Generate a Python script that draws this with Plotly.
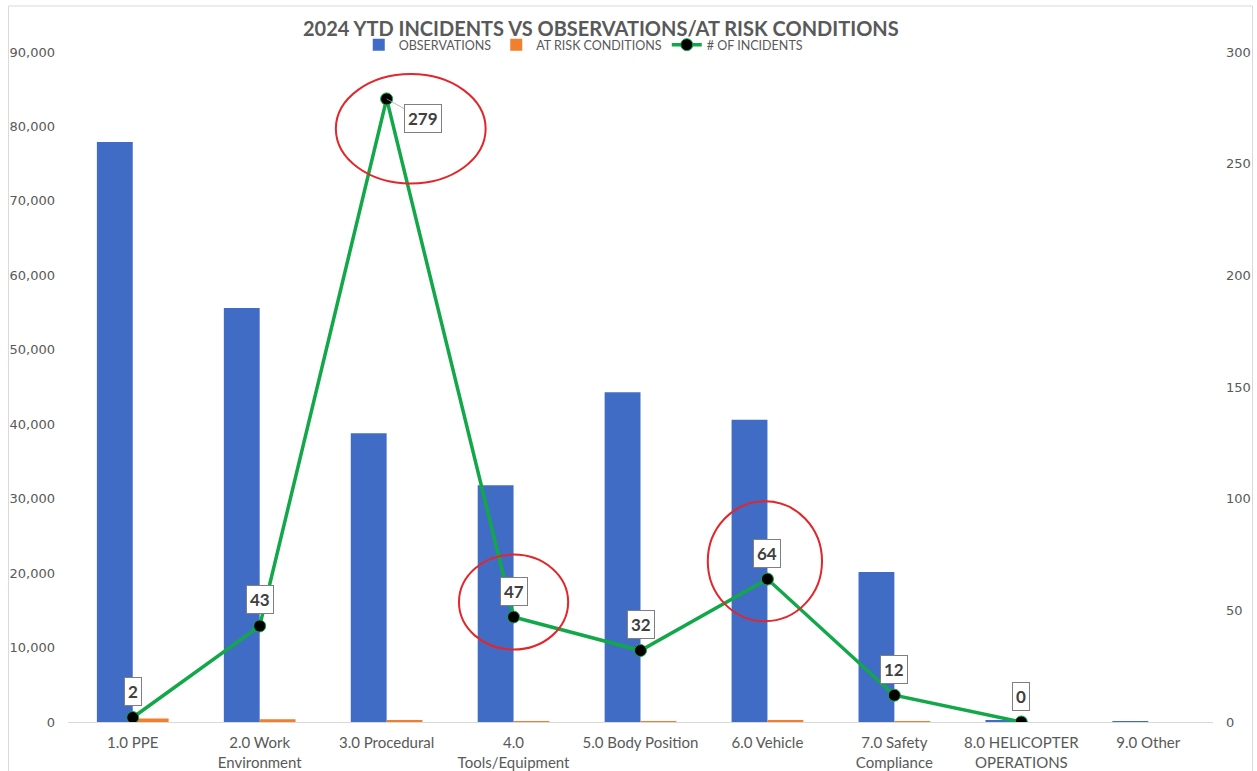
import plotly.graph_objects as go

categories = [
    "1.0 PPE", "2.0 Work<br>Environment", "3.0 Procedural", "4.0<br>Tools/Equipment",
    "5.0 Body Position", "6.0 Vehicle", "7.0 Safety<br>Compliance",
    "8.0 HELICOPTER<br>OPERATIONS", "9.0 Other",
]
observations = [77900, 55600, 38800, 31800, 44300, 40600, 20150, 250, 40]
at_risk = [480, 380, 220, 110, 40, 150, 100, 0, 0]
incidents = [2, 43, 279, 47, 32, 64, 12, 0, None]

# circled points: (category index, x offset in categories, y offset, width, height)
circled = [(2, 0.19, -13.4, 1.18, 49), (3, 0.0, 6.7, 0.86, 42.5), (5, -0.02, 8, 0.9, 53.7)]

GRAY = "#595959"
FONT = "Lato, Roboto, sans-serif"

fig = go.Figure()
fig.add_trace(go.Bar(
    x=categories, y=observations, name="OBSERVATIONS",
    marker=dict(color="#406CC6", line=dict(width=0)),
))
fig.add_trace(go.Bar(
    x=categories, y=at_risk, name="AT RISK CONDITIONS",
    marker=dict(color="#F07F2E", line=dict(width=0)),
))
fig.add_trace(go.Scatter(
    x=categories, y=incidents, name="# OF INCIDENTS", yaxis="y2",
    mode="lines+markers",
    line=dict(color="#12A84A", width=3.5),
    marker=dict(color="black", size=12, line=dict(color="#12A84A", width=1)),
))

# data labels
peak = max(v for v in incidents if v is not None)
for i, v in enumerate(incidents):
    if v is None:
        continue
    label = dict(
        x=categories[i], y=v, xref="x", yref="y2", text=f"<b>{v}</b>",
        bordercolor="#7F7F7F", borderwidth=1, borderpad=3, bgcolor="white",
        font=dict(size=17, color="#404040", family=FONT),
    )
    if v == peak:
        fig.add_annotation(**label, showarrow=True, arrowhead=0, arrowwidth=0.8,
                           arrowcolor="#A6A6A6", ax=36, ay=20)
    else:
        fig.add_annotation(**label, showarrow=False, yshift=26)

# red highlight ellipses
for idx, dx, dy, w, h in circled:
    cy = incidents[idx] + dy
    fig.add_shape(
        type="circle", xref="x", yref="y2",
        x0=idx + dx - w / 2, x1=idx + dx + w / 2,
        y0=cy - h / 2, y1=cy + h / 2,
        line=dict(color="#E3262B", width=2),
    )

fig.update_layout(
    width=1257, height=771,
    paper_bgcolor="white", plot_bgcolor="white",
    margin=dict(l=68, r=44, t=52, b=49, autoexpand=False),
    barmode="group", bargap=0.435, bargroupgap=0,
    font=dict(family=FONT, color=GRAY),
    title=dict(
        text="<b>2024 YTD INCIDENTS VS OBSERVATIONS/AT RISK CONDITIONS</b>",
        x=0.478, xanchor="center", y=0.963, yanchor="middle",
        font=dict(size=20, color=GRAY, family=FONT),
    ),
    legend=dict(
        orientation="h", x=0.45, xanchor="center",
        yref="container", y=0.9416, yanchor="middle",
        font=dict(size=12.5, color=GRAY, family=FONT), bgcolor="rgba(0,0,0,0)",
    ),
    xaxis=dict(
        showgrid=False, showline=True, linecolor="#D9D9D9", linewidth=1,
        tickfont=dict(size=15, color=GRAY, family=FONT), ticks="",
        ticklabelstandoff=7,
    ),
    yaxis=dict(
        range=[0, 90000], dtick=10000, tickformat=",", showgrid=False,
        zeroline=False, ticks="", ticklabelstandoff=12,
        tickfont=dict(size=13, color=GRAY, family="DejaVu Sans"),
    ),
    yaxis2=dict(
        range=[0, 300], dtick=50, overlaying="y", side="right", showgrid=False,
        zeroline=False, ticks="", ticklabelstandoff=12,
        tickfont=dict(size=13, color=GRAY, family="DejaVu Sans"),
    ),
)
fig.add_shape(
    type="rect", xref="paper", yref="paper", x0=-0.052, x1=1.0345,
    y0=-0.2, y1=1.0687, line=dict(color="#D9D9D9", width=1), layer="below",
)

fig.write_html("out.html", config={"displayModeBar": False},
               post_script="document.body.style.margin='0';")
